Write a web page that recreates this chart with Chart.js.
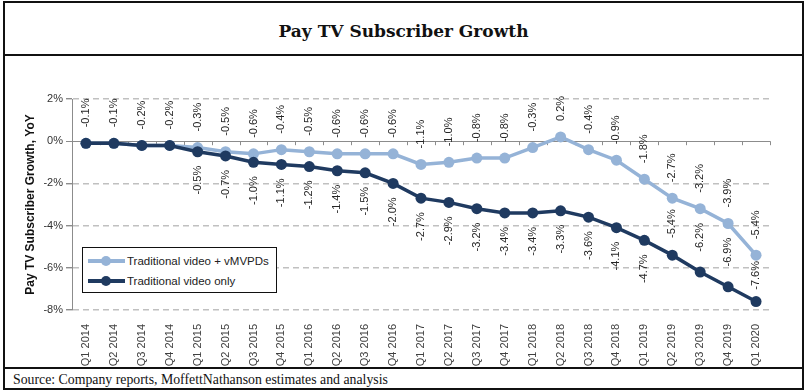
<!DOCTYPE html>
<html>
<head>
<meta charset="utf-8">
<script src="https://cdn.jsdelivr.net/npm/chart.js@4.4.1/dist/chart.umd.min.js"></script>
<style>
  body { margin: 0; background: #fff; }
  #frame { position: absolute; left: 3px; top: 1px; width: 801px; height: 389px; border: 2px solid #111; box-sizing: border-box; }
  #title { height: 51px; border-bottom: 2px solid #111; text-align: center;
           font: bold 17px "DejaVu Serif", Georgia, serif; line-height: 57px; color: #111; }
  #chartbox { position: relative; height: 311px; border-bottom: 2px solid #111; }
  #source { height: 19px; padding-left: 8px; font: 13.8px "Liberation Serif", serif; line-height: 21px; color: #111; }
  #legend { position: absolute; left: 77px; top: 191px; width: 195px; height: 46px; border: 1.5px solid #111;
            background: #fff; box-sizing: border-box; font: 11.5px "Liberation Sans", Arial, sans-serif; color: #222; }
  .row { position: absolute; left: 0; height: 16px; line-height: 16px; white-space: nowrap; }
  .mark { position: absolute; left: 5px; top: 6px; width: 37px; height: 3.5px; }
  .mark i { position: absolute; left: 13px; top: -3.5px; width: 10px; height: 10px; border-radius: 50%; }
  .row span { position: absolute; left: 44px; top: 0; }
</style>
</head>
<body>
<div id="frame">
  <div id="title">Pay TV Subscriber Growth</div>
  <div id="chartbox">
    <canvas id="growth-chart" width="797" height="311"></canvas>
    <div id="legend"></div>
  </div>
  <div id="source">Source: Company reports, MoffettNathanson estimates and analysis</div>
</div>
<script>
const quarters = ['Q1 2014', 'Q2 2014', 'Q3 2014', 'Q4 2014', 'Q1 2015', 'Q2 2015', 'Q3 2015', 'Q4 2015',
                  'Q1 2016', 'Q2 2016', 'Q3 2016', 'Q4 2016', 'Q1 2017', 'Q2 2017', 'Q3 2017', 'Q4 2017',
                  'Q1 2018', 'Q2 2018', 'Q3 2018', 'Q4 2018', 'Q1 2019', 'Q2 2019', 'Q3 2019', 'Q4 2019', 'Q1 2020'];
const tradPlusVmvpd = [-0.1, -0.1, -0.2, -0.2, -0.3, -0.5, -0.6, -0.4, -0.5, -0.6, -0.6, -0.6,
                       -1.1, -1.0, -0.8, -0.8, -0.3, 0.2, -0.4, -0.9, -1.8, -2.7, -3.2, -3.9, -5.4];
const tradOnly = [-0.1, -0.1, -0.2, -0.2, -0.5, -0.7, -1.0, -1.1, -1.2, -1.4, -1.5, -2.0,
                  -2.7, -2.9, -3.2, -3.4, -3.4, -3.3, -3.6, -4.1, -4.7, -5.4, -6.2, -6.9, -7.6];
const seriesNames = ['Traditional video + vMVPDs', 'Traditional video only'];
const lightBlue = '#95b3d7';
const darkBlue = '#1f3a60';

const font = '"Liberation Sans", Arial, sans-serif';

function pct(v) { return v.toFixed(1) + '%'; }

function vText(ctx, text, x, y, align) {
    ctx.save();
    ctx.translate(x, y);
    ctx.rotate(-Math.PI / 2);
    ctx.textAlign = align;
    ctx.fillText(text, 0, 0);
    ctx.restore();
}

// value labels, written vertically like the Excel original
const valueLabels = {
    id: 'valueLabels',
    afterDatasetsDraw(chart) {
        const ctx = chart.ctx;
        const light = chart.getDatasetMeta(0).data;
        const dark = chart.getDatasetMeta(1).data;
        ctx.save();
        ctx.font = '11px ' + font;
        ctx.fillStyle = '#262626';
        ctx.textBaseline = 'middle';
        quarters.forEach((q, i) => {
            vText(ctx, pct(tradPlusVmvpd[i]), light[i].x, light[i].y - 16, 'left');
            if (i < 4) return; // same numbers, one label
            if (i < 21) vText(ctx, pct(tradOnly[i]), dark[i].x, dark[i].y + 14, 'right');
            else vText(ctx, pct(tradOnly[i]), dark[i].x, (light[i].y + dark[i].y) / 2 - 3, 'center');
        });
        ctx.restore();
    }
};

// small tick marks on the zero line between quarters
const zeroTicks = {
    id: 'zeroTicks',
    beforeDatasetsDraw(chart) {
        const ctx = chart.ctx;
        const xs = chart.scales.x, ys = chart.scales.y;
        const y0 = ys.getPixelForValue(0);
        ctx.save();
        ctx.strokeStyle = '#8c8c8c';
        ctx.lineWidth = 1;
        ctx.beginPath();
        for (let i = 0; i <= quarters.length; i++) {
            const x = Math.round(xs.getPixelForValue(i - 0.5)) + 0.5;
            ctx.moveTo(x, y0);
            ctx.lineTo(x, y0 + 4);
        }
        ctx.stroke();
        ctx.restore();
    }
};

const ctx = document.getElementById('growth-chart');
const chart = new Chart(ctx, {
    type: 'line',
    data: {
        labels: quarters,
        datasets: [{
            label: seriesNames[0],
            data: tradPlusVmvpd,
            borderColor: lightBlue,
            backgroundColor: lightBlue,
            borderWidth: 3.5,
            pointRadius: 5.5,
            pointBorderWidth: 0,
            order: 2
        }, {
            label: seriesNames[1],
            data: tradOnly,
            borderColor: darkBlue,
            backgroundColor: darkBlue,
            borderWidth: 3.5,
            pointRadius: 5.5,
            pointBorderWidth: 0,
            order: 1
        }]
    },
    options: {
        responsive: false,
        animation: false,
        layout: { padding: { top: 43, right: 32, left: 0, bottom: 0 } },
        plugins: {
            legend: { display: false },
            tooltip: { enabled: false }
        },
        scales: {
            x: {
                offset: true,
                grid: { display: false },
                border: { display: false },
                ticks: {
                    minRotation: 90, maxRotation: 90, autoSkip: false, padding: 6,
                    color: '#404040', font: { family: font, size: 11 }
                },
                afterFit: s => { s.height = 57; }
            },
            y: {
                min: -8, max: 2,
                ticks: {
                    stepSize: 2, padding: 3, color: '#333',
                    font: { family: font, size: 11 },
                    callback: v => v + '%'
                },
                grid: {
                    color: c => (c.tick && c.tick.value === 0) ? '#8c8c8c' : '#c0c0c0',
                    lineWidth: c => (c.tick && c.tick.value === 0) ? 1 : 1.4,
                    tickLength: 6,
                    tickColor: '#8c8c8c',
                    tickBorderDash: []
                },
                border: {
                    display: true, color: '#8c8c8c', width: 1,
                    dash: c => (c.tick && c.tick.value !== 0) ? [6, 4] : []
                },
                title: {
                    display: true,
                    text: 'Pay TV Subscriber Growth, YoY',
                    color: '#111',
                    font: { family: font, size: 12, weight: 'bold' },
                    padding: { top: 18, bottom: 0 }
                },
                afterFit: s => { s.width = 67; }
            }
        }
    },
    plugins: [zeroTicks, valueLabels]
});

// legend drawn as html inside the plot
const legend = document.getElementById('legend');
chart.data.datasets.forEach((ds, i) => {
    const row = document.createElement('div');
    row.className = 'row';
    row.style.top = (5 + i * 20) + 'px';
    row.innerHTML = '<div class="mark" style="background:' + ds.borderColor + '"><i style="background:' +
        ds.borderColor + '"></i></div><span>' + ds.label + '</span>';
    legend.appendChild(row);
});
</script>
</body>
</html>
